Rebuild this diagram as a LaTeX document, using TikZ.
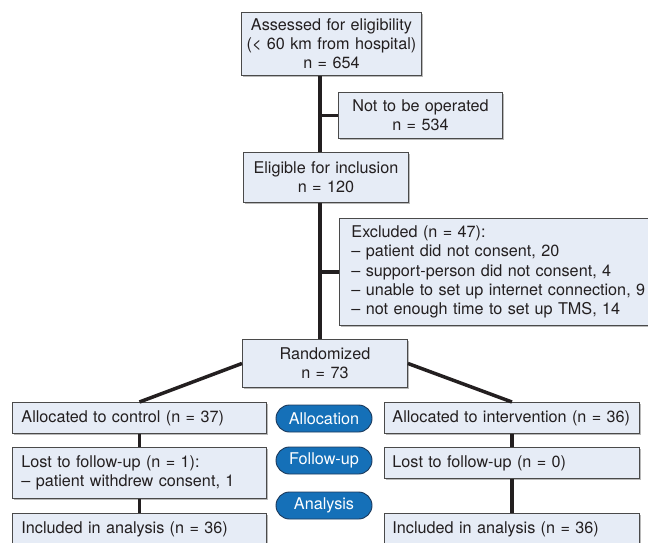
\documentclass[tikz,border=0pt]{standalone}
\usepackage{fontspec}
\setmainfont{TeX Gyre Heros}
\usetikzlibrary{shadows,shapes.misc}

\definecolor{boxfill}{HTML}{E6ECF6}
\definecolor{boxline}{HTML}{4A4A4A}
\definecolor{pillfill}{HTML}{1570B8}
\definecolor{pillline}{HTML}{1D3A5C}
\definecolor{ink}{HTML}{231F20}

\tikzset{
	box/.style={draw=boxline, fill=boxfill, line width=0.9pt, inner sep=0pt, anchor=north west, text=ink,
		drop shadow={shadow xshift=2pt, shadow yshift=-2pt, opacity=0.45, fill=black!60},
		font=\fontsize{16.2}{19.2}\selectfont},
	cbox/.style={box, align=center},
	lbox/.style={box, align=left, inner xsep=9pt},
	phase/.style={rounded rectangle, draw=pillline, fill=pillfill, line width=0.9pt, text=white,
		minimum width=96pt, minimum height=27pt, inner sep=0pt, font=\fontsize{16.2}{19.2}\selectfont},
	trunk/.style={draw=ink, line width=4.5pt},
	link/.style={draw=ink, line width=3.5pt},
}

\begin{document}
\begin{tikzpicture}[x=1pt, y=-1pt]
	\useasboundingbox (0,0) rectangle (648,542);
	\clip (0,0) rectangle (648,542);
	% screening
	\node [cbox, text width=180, minimum height=63] (assess) at (241,12) {Assessed for eligibility\\(< 60 km from hospital)\\n = 654};
	\node [cbox, text width=164, minimum height=46] (notop) at (338,92) {Not to be operated\\n = 534};
	\node [cbox, text width=165, minimum height=50] (elig) at (243,152) {Eligible for inclusion\\n = 120};
	\node [lbox, inner xsep=12pt, text width=310, minimum height=107] (excl) at (339,218) {Excluded (n = 47):\\– patient did not consent, 20\\– support-person did not consent, 4\\– unable to set up internet connection, 9\\– not enough time to set up TMS, 14};
	\node [cbox, text width=165, minimum height=48] (random) at (242,339) {Randomized\\n = 73};
	% arms
	\node [lbox, text width=236, minimum height=31] (ctrl) at (12,402) {Allocated to control (n = 37)};
	\node [lbox, text width=236, minimum height=51] (lostL) at (12,447) {Lost to follow-up (n = 1):\\– patient withdrew consent, 1};
	\node [lbox, text width=236, minimum height=32] (inclL) at (12,513) {Included in analysis (n = 36)};
	\node [lbox, inner xsep=8pt, text width=239, minimum height=31] (interv) at (384,402) {Allocated to intervention (n = 36)};
	\node [lbox, inner xsep=8pt, text width=239, minimum height=31] (lostR) at (384,447) {Lost to follow-up (n = 0)};
	\node [lbox, inner xsep=8pt, text width=239, minimum height=32] (inclR) at (384,513) {Included in analysis (n = 36)};
	% phases
	\node [phase] (alloc) at (324,418.5) {Allocation};
	\node [phase] (follow) at (324,460.5) {Follow-up};
	\node [phase] (anal) at (324,505.5) {Analysis};
	% connectors
	\coordinate (spine) at (320,0);
	\draw [trunk] (assess.south -| spine) -- (elig.north -| spine);
	\draw [trunk] (elig.south -| spine) -- (random.north -| spine);
	\draw [link] (spine |- notop.west) -- (notop.west);
	\draw [link] (spine |- excl.west) -- (excl.west);
	\draw [link] (random.west) -- (ctrl.north);
	\draw [link] (random.east) -- (interv.north);
	\draw [link] (ctrl.south) -- (lostL.north);
	\draw [link] (lostL.south) -- (inclL.north);
	\draw [link] (interv.south) -- (lostR.north);
	\draw [link] (lostR.south) -- (inclR.north);
\end{tikzpicture}
\end{document}
